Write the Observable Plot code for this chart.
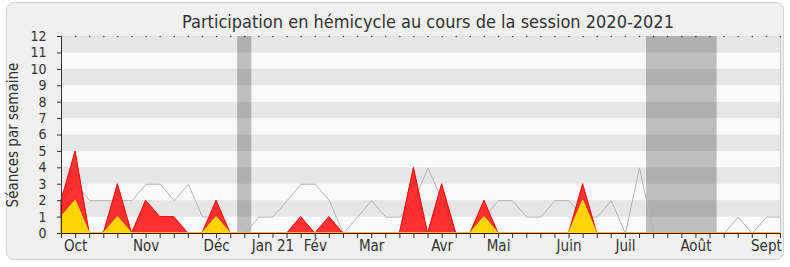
<!DOCTYPE html>
<html><head><meta charset="utf-8">
<script src="https://cdn.jsdelivr.net/npm/d3@7"></script>
<script src="https://cdn.jsdelivr.net/npm/@observablehq/plot@0.6"></script>
<style>
body{margin:0;background:#fff;}
#wrap{position:relative;width:790px;height:267px;}
#frame{position:absolute;left:6px;top:2px;width:776px;height:256px;border:1px solid #d2d2d2;border-radius:8px;background:#f0f0f0;}
#chart{position:absolute;left:0;top:0;}
</style></head><body>
<div id="wrap"><div id="frame"></div><div id="chart"></div></div>
<script>
const title = "Participation en hémicycle au cours de la session 2020-2021";
const yLabel = "Séances par semaine";
const weeks = d3.range(52);
const presences = [2,5,0,0,3,0,2,1,1,0, 0,2,0,0,0,0,0,1,0,1, 0,0,0,0,0,4,0,3,0,0, 2,0,0,0,0,0,0,3,0,0, 0,0,0,0,0,0,0,0,0,0, 0,0];
const interventions = [1,2,0,0,1,0,0,0,0,0, 0,1,0,0,0,0,0,0,0,0, 0,0,0,0,0,0,0,0,0,0, 1,0,0,0,0,0,0,2,0,0, 0,0,0,0,0,0,0,0,0,0, 0,0];
const mediane = [2,3,2,2,2,2,3,3,2,3, 1,1,0,0,1,1,2,3,3,2, 0,1,2,1,1,2,4,2,0,0, 1,2,2,1,1,2,2,1,1,2, 0,4,0,0,0,0,0,0,1,0, 1,1];
const vacancesDebut = [13, 42];
const vacancesFin = [13, 46];
const monthWeeks = [1, 6, 11, 15, 18, 22, 27, 31, 36, 40, 45, 50];
const monthLabels = ["Oct", "Nov", "Déc", "Jan 21", "Fév", "Mar", "Avr", "Mai", "Juin", "Juil", "Août", "Sept"];
const yTicks = d3.range(0, 13);
const darkBands = yTicks.filter(k => k < 12 && k % 2 === 1);
const vacances = vacancesDebut.map((d, i) => ({debut: d, fin: vacancesFin[i]}));

const font = "'DejaVu Sans Condensed', 'DejaVu Sans', sans-serif";
const chart = Plot.plot({
  width: 790, height: 267,
  marginLeft: 61, marginRight: 10, marginTop: 36, marginBottom: 34,
  x: {domain: [0, 51]},
  y: {domain: [0, 12]},
  style: {fontFamily: font, fontStretch: "condensed", background: "transparent", color: "#333", overflow: "visible"},
  marks: [
    Plot.frame({fill: "#fafafa", stroke: "none"}),
    Plot.rect(vacances, {x1: d => d.debut - 0.5, x2: d => d.fin + 0.5, y1: 0, y2: 12, fill: "#bebebe"}),
    Plot.rect(darkBands, {y1: d => d, y2: d => d + 1, fill: "#000", fillOpacity: 0.08}),
    Plot.lineY(mediane, {x: (d, i) => i, y: d => d, stroke: "#b4b4b4", strokeWidth: 1}),
    Plot.areaY(presences, {x: (d, i) => i, y: d => d, fill: "#ff0000", fillOpacity: 0.8, stroke: "#ff0000", strokeWidth: 1}),
    Plot.areaY(interventions, {x: (d, i) => i, y: d => d, fill: "#ffd400", stroke: "#ffe600", strokeWidth: 1}),
    Plot.ruleX([51], {stroke: "#c8c8c8"}),
    Plot.ruleX([0], {stroke: "#333"}),
    Plot.ruleY([0], {stroke: "#4a0a0a"}),
    Plot.dot(weeks, {x: d => d, y: 12, r: 0.7, fill: "#333", stroke: "none"}),
    Plot.axisY({ticks: yTicks, tickSize: 4, tickPadding: 11, fontSize: 14, label: null, stroke: "#333"}),
    Plot.axisX({ticks: weeks, tickSize: 5, tickFormat: () => "", label: null, stroke: "#333"}),
    Plot.axisX({ticks: monthWeeks, tickSize: 0, tickPadding: 7, fontSize: 15, label: null,
      tickFormat: d => monthLabels[monthWeeks.indexOf(d)]}),
    Plot.text([title], {frameAnchor: "top", lineAnchor: "bottom", dx: 7, dy: -9, fontSize: 18, fill: "#333"}),
    Plot.text([yLabel], {frameAnchor: "left", textAnchor: "middle", lineAnchor: "middle", dx: -48, rotate: -90, fontSize: 15, fill: "#333"})
  ]
});
document.getElementById("chart").appendChild(chart);
</script>
</body></html>
